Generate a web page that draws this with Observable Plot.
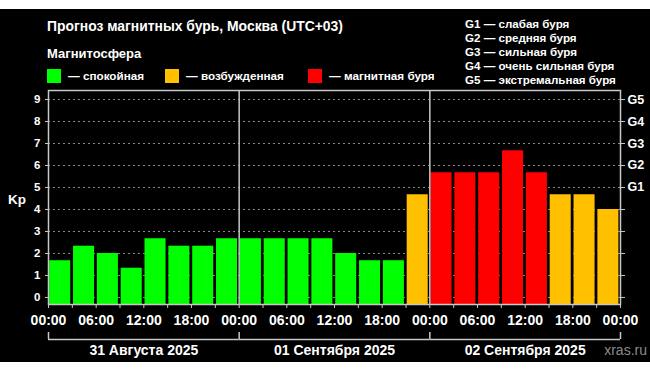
<!DOCTYPE html>
<html><head><meta charset="utf-8">
<script src="https://cdn.jsdelivr.net/npm/d3@7"></script>
<script src="https://cdn.jsdelivr.net/npm/@observablehq/plot@0.6"></script>
<style>
html,body{margin:0;padding:0;background:#fff;}
#wrap{position:relative;width:650px;height:372px;overflow:hidden;font-family:"Liberation Sans",Arial,sans-serif;font-weight:bold;color:#fff;}
#bg{position:absolute;left:0;top:9px;width:650px;height:353px;background:#000;}
.t{position:absolute;white-space:nowrap;line-height:1;}
.sq{position:absolute;width:14px;height:14px;}
svg{position:absolute;left:0;overflow:visible;}
</style></head>
<body><div id="wrap"><div id="bg"></div></div>
<script>
// ---- data ----
const startHours = [0,3,6,9,12,15,18,21, 24,27,30,33,36,39,42,45, 48,51,54,57,60,63,66,69];
const kp = [1.67,2.33,2.0,1.33,2.67,2.33,2.33,2.67, 2.67,2.67,2.67,2.67,2.0,1.67,1.67,4.67, 5.67,5.67,5.67,6.67,5.67,4.67,4.67,4.0];
const status = ["q","q","q","q","q","q","q","q", "q","q","q","q","q","q","q","d", "s","s","s","s","s","d","d","d"];
const statusKeys = ["q","d","s"];
const statusLabels = ["— спокойная","— возбужденная","— магнитная буря"];
const statusColors = ["#00ff00","#ffc000","#ff0000"];
const dayStarts = [0,24,48];
const dayLabels = ["31 Августа 2025","01 Сентября 2025","02 Сентября 2025"];
const timeTicks = [0,6,12,18,24,30,36,42,48,54,60,66,72];
const timeLabels = ["00:00","06:00","12:00","18:00","00:00","06:00","12:00","18:00","00:00","06:00","12:00","18:00","00:00"];
const kpTicks = [0,1,2,3,4,5,6,7,8,9];
const gLevels = [5,6,7,8,9];
const gLabels = ["G1","G2","G3","G4","G5"];
const gLegend = ["G1 — слабая буря","G2 — средняя буря","G3 — сильная буря","G4 — очень сильная буря","G5 — экстремальная буря"];
const title = "Прогноз магнитных бурь, Москва (UTC+03)";
const subtitle = "Магнитосфера";
const source = "xras.ru";

const bars = startHours.map((h,i)=>({x1:h, x2:h+3, kp:kp[i], st:status[i]}));
const yMin = -0.32, yMax = 9.41;
const font = "'Liberation Sans', Arial, sans-serif";
const wrap = document.getElementById("wrap");

function addText(txt, left, top, size, extra={}) {
  const d = document.createElement("div");
  d.className = "t"; d.textContent = txt;
  d.style.left = left+"px"; d.style.top = top+"px"; d.style.fontSize = size+"px";
  Object.assign(d.style, extra);
  wrap.appendChild(d); return d;
}

const main = Plot.plot({
  width: 650, height: 372,
  marginLeft: 48, marginRight: 30, marginTop: 90, marginBottom: 68,
  style: {background: "transparent", color: "#fff", fontFamily: font, overflow: "visible"},
  x: {domain: [0,72], axis: null},
  y: {domain: [yMin, yMax], axis: null},
  color: {domain: statusKeys, range: statusColors},
  marks: [
    Plot.ruleY(kpTicks, {stroke: "#8a8a8a", strokeDasharray: "2,3", strokeWidth: 1}),
    Plot.rectY(bars, {x1: "x1", x2: "x2", y1: yMin, y2: "kp", fill: "st", insetLeft: 1.2, insetRight: 1.6}),
    Plot.ruleX(dayStarts.slice(1), {stroke: "#c8c8c8", strokeWidth: 1.5}),
    Plot.frame({stroke: "#c8c8c8", strokeWidth: 1.5}),
    Plot.axisX(startHours.concat([72]), {label: null, tickSize: 4, tickFormat: () => "", stroke: "#c8c8c8"}),
    Plot.axisX(timeTicks, {label: null, tickSize: 0, tickPadding: 11, tickFormat: (d,i) => timeLabels[i], fontSize: 14, fontWeight: "bold", fill: "#fff"}),
    Plot.axisY(kpTicks, {label: null, anchor: "left", tickSize: 3, tickPadding: 5, fontSize: 11.5, fontWeight: "bold", fill: "#fff", stroke: "#c8c8c8"}),
    Plot.axisY(kpTicks, {label: null, anchor: "right", tickSize: 4, tickFormat: () => "", stroke: "#c8c8c8"}),
    Plot.axisY(gLevels, {label: null, anchor: "right", tickSize: 0, tickPadding: 7, tickFormat: (d,i) => gLabels[i], fontSize: 12.5, fontWeight: "bold", fill: "#fff"})
  ]
});
main.style.top = "0px";
wrap.appendChild(main);

const days = dayStarts.map((s,i)=>({s, e: s+24, mid: s+12, label: dayLabels[i]}));
const strip = Plot.plot({
  width: 650, height: 32,
  marginLeft: 48, marginRight: 30, marginTop: 0, marginBottom: 0,
  style: {background: "transparent", color: "#fff", fontFamily: font, overflow: "visible"},
  x: {domain: [0,72], axis: null},
  y: {domain: [0,1], range: [9,2], axis: null},
  marks: [
    Plot.ruleY(days, {y: 0, x1: "s", x2: "e", stroke: "#c8c8c8", strokeWidth: 1.5}),
    Plot.ruleX(dayStarts.concat([72]), {y1: 0, y2: 1, stroke: "#c8c8c8", strokeWidth: 1.5}),
    Plot.text(days, {x: "mid", y: 0, text: "label", lineAnchor: "bottom", dy: 15, fontSize: 14, fontWeight: "bold", fill: "#fff"})
  ]
});
strip.style.top = "330px";
wrap.appendChild(strip);

// header texts
addText(title, 47, 20, 13.9);
addText(subtitle, 47, 47, 13);
const legX = [47, 165, 308];
statusKeys.forEach((k,i)=>{
  const s = document.createElement("div"); s.className="sq";
  s.style.left = legX[i]+"px"; s.style.top = "69px"; s.style.background = statusColors[i];
  wrap.appendChild(s);
  addText(statusLabels[i], legX[i]+21, 69.5, 11.7);
});
gLegend.forEach((g,i)=> addText(g, 465, 17.5 + i*14, 11.6));
addText("Kp", 8, 193, 13.5);
addText(source, 0, 343, 14, {left: "auto", right: "3px", color: "#8c8c8c", fontWeight: "normal"});
</script></body></html>
